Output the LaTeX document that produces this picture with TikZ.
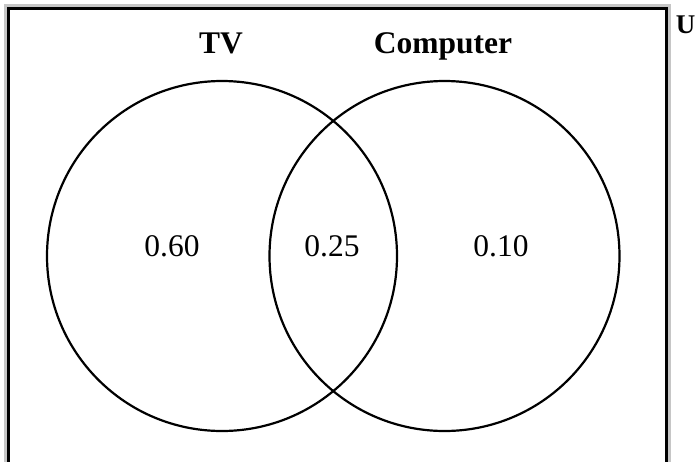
\documentclass[tikz,border=0pt]{standalone}
\usepackage{fontspec}
\setmainfont{Liberation Serif}
\tikzset{
        % Sets of the diagram
        set_circle/.style={circle, draw=black, line width=2.2pt, minimum size=350pt, inner sep=0pt},
        % Titles of the sets
        set_title/.style={font=\fontsize{31.5}{36}\selectfont\bfseries, inner sep=0pt, anchor=base},
        % Probabilities of the regions
        region_value/.style={font=\fontsize{31.5}{36}\selectfont, inner sep=0pt, anchor=base}
}
\begin{document}
\begin{tikzpicture}[x=1pt, y=-1pt]
            \useasboundingbox (0,0) rectangle (696,461);
            % Universe
            \draw[gray!45, line width=3pt] (5.5,5.5) rectangle (669.5,480);
            \draw[black, line width=3pt] (8.5,8.5) rectangle (666.5,480);
            \node[set_title, font=\fontsize{27}{32}\selectfont\bfseries, anchor=base east] (universe) at (695.5,33) {U};
            % Sets
            \node[set_circle] (tv) at (222,256) {};
            \node[set_circle] (computer) at (444.5,256) {};
            \node[set_title] (tv_title) at (221,53) {TV};
            \node[set_title] (computer_title) at (443,53) {Computer};
            % Regions
            \node[region_value] (tv_only) at (172,256) {0.60};
            \node[region_value] (both) at (332,256) {0.25};
            \node[region_value] (computer_only) at (501,256) {0.10};
\end{tikzpicture}
\end{document}
